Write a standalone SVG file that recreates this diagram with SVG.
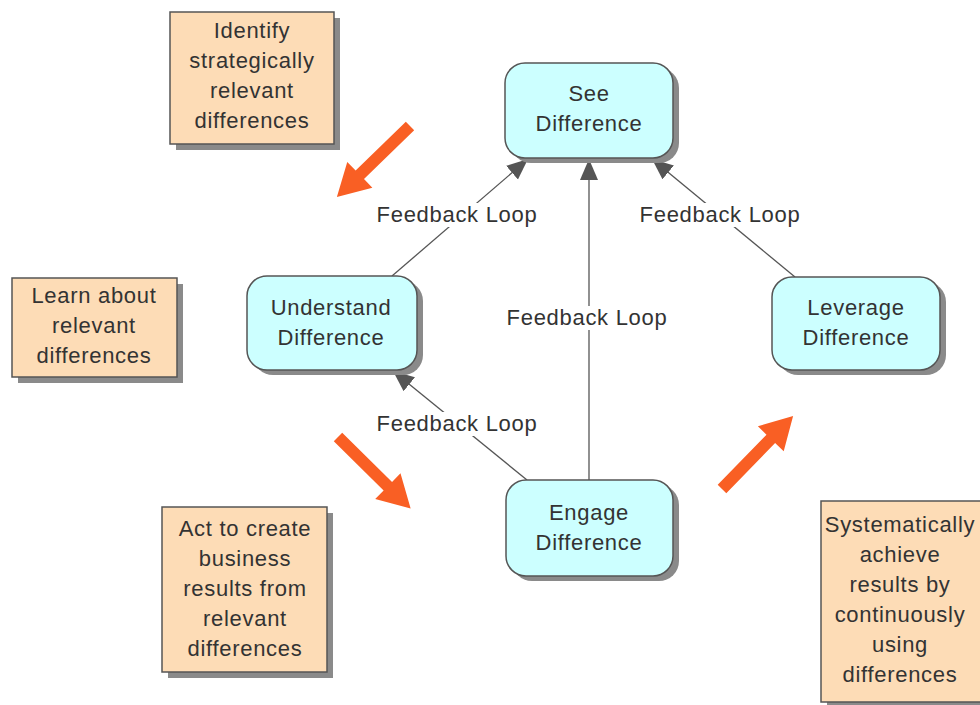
<svg xmlns="http://www.w3.org/2000/svg" width="980" height="705" viewBox="0 0 980 705">
<defs>
<style>
.t{font-family:"Liberation Sans",Arial,sans-serif;font-size:22px;letter-spacing:0.7px;fill:#333;text-anchor:middle}
.note{fill:#FDDCB6;stroke:#555;stroke-width:1.5}
.nsh{fill:#8a8a8a}
.proc{fill:#CCFFFF;stroke:#555;stroke-width:1.5}
.psh{fill:#8a8a8a}
.conn{stroke:#555;stroke-width:1.3;fill:none}
.lbg{fill:#fff}
.oa{fill:#F95F24}
</style>
<marker id="ah" markerUnits="userSpaceOnUse" markerWidth="24" markerHeight="24" viewBox="0 0 24 24" refX="21" refY="12" orient="auto">
<path d="M0,3 L21,12 L0,21 Z" fill="#555"/>
</marker>
<polygon id="oarrow" points="0,-6 70,-6 70,-18 102,0 70,18 70,6 0,6"/>
</defs>
<rect width="980" height="705" fill="#fff"/>

<g id="connectors">
<line class="conn" x1="392" y1="276" x2="528" y2="159" marker-end="url(#ah)"/>
<line class="conn" x1="795" y1="277" x2="652" y2="159" marker-end="url(#ah)"/>
<line class="conn" x1="589" y1="480" x2="589" y2="159" marker-end="url(#ah)"/>
<line class="conn" x1="527" y1="480" x2="393" y2="371" marker-end="url(#ah)"/>
<rect class="lbg" x="373" y="203" width="168" height="24"/>
<text class="t" x="457" y="222">Feedback Loop</text>
<rect class="lbg" x="636" y="203" width="168" height="24"/>
<text class="t" x="720" y="222">Feedback Loop</text>
<rect class="lbg" x="503" y="306" width="168" height="24"/>
<text class="t" x="587" y="325">Feedback Loop</text>
<rect class="lbg" x="373" y="412" width="168" height="24"/>
<text class="t" x="457" y="431">Feedback Loop</text>
</g>

<g id="orange-arrows">
<use href="#oarrow" class="oa" transform="translate(410,126) rotate(135.8)"/>
<use href="#oarrow" class="oa" transform="translate(338,437) rotate(44.6)"/>
<use href="#oarrow" class="oa" transform="translate(722,489) rotate(-45.8)"/>
</g>

<g id="note-identify">
<rect class="nsh" x="176" y="18" width="164" height="132"/>
<rect class="note" x="170" y="12" width="164" height="132"/>
<text class="t" x="252" y="38">Identify</text>
<text class="t" x="252" y="68">strategically</text>
<text class="t" x="252" y="98">relevant</text>
<text class="t" x="252" y="128">differences</text>
</g>

<g id="note-learn">
<rect class="nsh" x="18" y="284" width="165" height="99"/>
<rect class="note" x="12" y="278" width="165" height="99"/>
<text class="t" x="94" y="303">Learn about</text>
<text class="t" x="94" y="333">relevant</text>
<text class="t" x="94" y="363">differences</text>
</g>

<g id="note-act">
<rect class="nsh" x="168" y="513" width="165" height="165"/>
<rect class="note" x="162" y="507" width="165" height="165"/>
<text class="t" x="245" y="536">Act to create</text>
<text class="t" x="245" y="566">business</text>
<text class="t" x="245" y="596">results from</text>
<text class="t" x="245" y="626">relevant</text>
<text class="t" x="245" y="656">differences</text>
</g>

<g id="note-systematically">
<rect class="nsh" x="827" y="507" width="165" height="201"/>
<rect class="note" x="821" y="501" width="165" height="201"/>
<text class="t" x="900" y="532">Systematically</text>
<text class="t" x="900" y="562">achieve</text>
<text class="t" x="900" y="592">results by</text>
<text class="t" x="900" y="622">continuously</text>
<text class="t" x="900" y="652">using</text>
<text class="t" x="900" y="682">differences</text>
</g>

<g id="node-see">
<rect class="psh" x="511" y="68" width="168" height="95" rx="20"/>
<rect class="proc" x="505" y="63" width="168" height="95" rx="20"/>
<text class="t" x="589" y="101">See</text>
<text class="t" x="589" y="131">Difference</text>
</g>

<g id="node-understand">
<rect class="psh" x="253" y="281" width="170" height="94" rx="20"/>
<rect class="proc" x="247" y="276" width="170" height="94" rx="20"/>
<text class="t" x="331" y="315">Understand</text>
<text class="t" x="331" y="345">Difference</text>
</g>

<g id="node-leverage">
<rect class="psh" x="778" y="282" width="168" height="93" rx="20"/>
<rect class="proc" x="772" y="277" width="168" height="93" rx="20"/>
<text class="t" x="856" y="315">Leverage</text>
<text class="t" x="856" y="345">Difference</text>
</g>

<g id="node-engage">
<rect class="psh" x="512" y="485" width="167" height="96" rx="20"/>
<rect class="proc" x="506" y="480" width="167" height="96" rx="20"/>
<text class="t" x="589" y="520">Engage</text>
<text class="t" x="589" y="550">Difference</text>
</g>
</svg>
